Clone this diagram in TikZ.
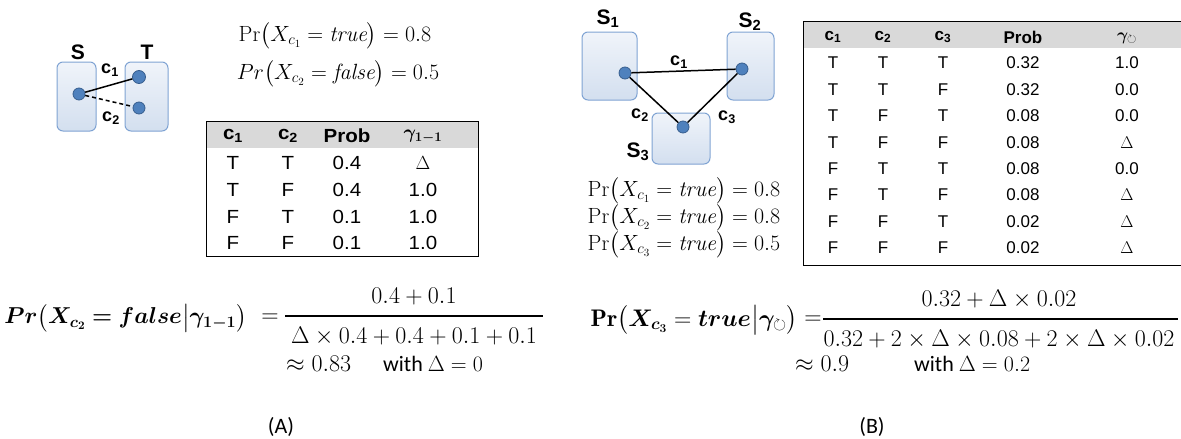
\RequirePackage{fix-cm}
\documentclass[tikz,border=0pt]{standalone}
\usepackage{amsmath,amssymb}
\usepackage{bm}
\usepackage{fontspec}
\newfontfamily\arial{Liberation Sans}
\newfontfamily\arialA[FakeStretch=1.08]{Liberation Sans}
\newfontfamily\calib{Carlito}
\definecolor{grpborder}{HTML}{7FA3D3}
\definecolor{grptop}{HTML}{F0F4FA}
\definecolor{grpbot}{HTML}{D3DFEF}
\definecolor{dotfill}{HTML}{4F81BD}
\definecolor{dotdraw}{HTML}{375E8E}
\definecolor{hdrgray}{HTML}{D9D9D9}
\tikzset{
  grp/.style={draw=grpborder, line width=1pt, rounded corners=6pt, top color=grptop, bottom color=grpbot},
  dot/.style={circle, fill=dotfill, draw=dotdraw, line width=0.8pt, minimum size=12pt, inner sep=0pt},
  bigdot/.style={dot, minimum size=13pt},
  lbl/.style={font=\arial\bfseries\fontsize{21}{21}\selectfont, inner sep=0pt},
  clbl/.style={font=\arial\bfseries\fontsize{18}{18}\selectfont, inner sep=0pt},
  ta/.style={font=\arialA\fontsize{19}{19}\selectfont, inner sep=0pt},
  tah/.style={font=\arialA\bfseries\fontsize{19}{19}\selectfont, inner sep=0pt},
  tb/.style={font=\arial\fontsize{17}{17}\selectfont, inner sep=0pt},
  tbh/.style={font=\arial\bfseries\fontsize{17}{17}\selectfont, inner sep=0pt},
  eq/.style={font=\fontsize{22}{22}\selectfont, inner sep=0pt},
  beq/.style={font=\fontsize{24}{24}\selectfont, inner sep=0pt},
  cal/.style={font=\calib\fontsize{22}{22}\selectfont, inner sep=0pt},
  edge/.style={line width=1.5pt},
  tline/.style={line width=1pt},
}
\begin{document}
\begin{tikzpicture}[x=1pt,y=-1pt]
\useasboundingbox (0,0) rectangle (1181,439);
% ---------------- Panel A graph
\path[grp] (57,62) rectangle (96,131);
\path[grp] (125,62) rectangle (168,131);
\node[lbl] (S) at (78,52) {S};
\node[lbl] (T) at (147,52) {T};
\node[dot] (sa) at (79,94) {};
\node[bigdot] (ta) at (139,77) {};
\node[dot] (tb) at (139,108) {};
\draw[edge] (sa) -- (ta);
\draw[edge, dashed, dash pattern=on 4pt off 3pt] (sa) -- (tb);
\node[clbl] (c1a) at (110,70) {c\textsubscript{1}};
\node[clbl] (c2a) at (111,118) {c\textsubscript{2}};
% ---------------- Panel A probabilities
\node[eq] (pa1) at (335,36) {$\mathrm{Pr}\bigl(X_{c_1} = \mathit{true}\bigr) = 0.8$};
\node[eq] (pa2) at (338,74) {$Pr\bigl(X_{c_2} = \mathit{false}\bigr) = 0.5$};
% ---------------- Table A
\fill[hdrgray] (206,121) rectangle (478,148);
\draw[tline] (206,121) -- (478,121);
\draw[tline] (206,121) -- (206,256) -- (478,256) -- (478,121);
\node[tah] (ha1) at (233,136) {c\textsubscript{1}};
\node[tah] (ha2) at (288,136) {c\textsubscript{2}};
\node[tah] (ha3) at (347,136) {Prob};
\node[ta] (ga) at (423,137) {$\bm{\gamma_{1-1}}$};
\foreach \y/\a/\b/\p/\g in {163/T/T/0.4/$\Delta$, 190/T/F/0.4/1.0, 217/F/T/0.1/1.0, 243/F/F/0.1/1.0}{
  \node[ta] at (233,\y) {\a};
  \node[ta] at (288,\y) {\b};
  \node[ta] at (347,\y) {\p};
  \node[ta] at (423,\y) {\g};
}
% ---------------- Panel A formula
\node[beq, font=\fontsize{23}{23}\selectfont, anchor=east] (lhsA) at (247,318) {$\bm{Pr\bigl(X_{c_2} = false\big| \gamma_{1-1}\bigr)}$};
\node[beq] (eqA) at (270,318) {$=$};
\node[beq] (numA) at (414,297) {$0.4 + 0.1$};
\node[beq] (denA) at (414,336) {$\Delta \times 0.4 + 0.4 + 0.1 + 0.1$};
\draw[line width=1.2pt] (285,316) -- (543,316);
\node[beq, anchor=west] (apA) at (286,364) {$\approx 0.83$};
\node[cal, anchor=west] (wA) at (383,364) {with $\Delta = 0$};
\node[cal] (capA) at (281,427) {(A)};
% ---------------- Panel B graph
\path[grp] (582,32) rectangle (637,100);
\path[grp] (727,32) rectangle (774,100);
\path[grp] (652,113) rectangle (710,164);
\node[lbl] (S1) at (608,19) {S\textsubscript{1}};
\node[lbl] (S2) at (750,22) {S\textsubscript{2}};
\node[lbl] (S3) at (638,152) {S\textsubscript{3}};
\node[dot] (n1) at (625,73) {};
\node[dot] (n2) at (742,69) {};
\node[dot] (n3) at (683,127) {};
\draw[edge] (n1) -- (n2);
\draw[edge] (n1) -- (n3);
\draw[edge] (n3) -- (n2);
\node[clbl] (c1b) at (679,62) {c\textsubscript{1}};
\node[clbl] (c2b) at (640,115) {c\textsubscript{2}};
\node[clbl] (c3b) at (727,117) {c\textsubscript{3}};
% ---------------- Panel B probabilities
\node[eq] (pb1) at (684,191) {$\mathrm{Pr}\bigl(X_{c_1} = \mathit{true}\bigr) = 0.8$};
\node[eq] (pb2) at (684,218) {$\mathrm{Pr}\bigl(X_{c_2} = \mathit{true}\bigr) = 0.8$};
\node[eq] (pb3) at (684,245) {$\mathrm{Pr}\bigl(X_{c_3} = \mathit{true}\bigr) = 0.5$};
% ---------------- Table B
\fill[hdrgray] (803,21) rectangle (1181,48);
\draw[tline] (803,21) -- (1181,21);
\draw[tline] (1181,265) -- (803,265) -- (803,21);
\node[tbh] (hb1) at (833,37) {c\textsubscript{1}};
\node[tbh] (hb2) at (883,37) {c\textsubscript{2}};
\node[tbh] (hb3) at (943,37) {c\textsubscript{3}};
\node[tbh] (hb4) at (1023,37) {Prob};
\node[tb] (gb) at (1127,38) {$\bm{\gamma}_{\circlearrowright}$};
\foreach \i/\a/\b/\c/\p/\g in {0/T/T/T/0.32/1.0, 1/T/T/F/0.32/0.0, 2/T/F/T/0.08/0.0, 3/T/F/F/0.08/$\Delta$, 4/F/T/T/0.08/0.0, 5/F/T/F/0.08/$\Delta$, 6/F/F/T/0.02/$\Delta$, 7/F/F/F/0.02/$\Delta$}{
  \pgfmathsetmacro{\yy}{63+26.4*\i}
  \node[tb] at (833,\yy) {\a};
  \node[tb] at (883,\yy) {\b};
  \node[tb] at (943,\yy) {\c};
  \node[tb] at (1023,\yy) {\p};
  \node[tb] at (1127,\yy) {\g};
}
% ---------------- Panel B formula
\node[beq, anchor=east] (lhsB) at (798,320) {$\mathbf{Pr}\bigl(\bm{X_{c_3}} = \bm{true}\big|\bm{\gamma}_{\circlearrowright}\bigr)$};
\node[beq] (eqB) at (813,320) {$=$};
\node[beq] (numB) at (999,299) {$0.32 + \Delta \times 0.02$};
\node[beq] (denB) at (999,339) {$0.32 + 2 \times \Delta \times 0.08 + 2 \times \Delta \times 0.02$};
\draw[line width=1.2pt] (823,319) -- (1178,319);
\node[beq, anchor=west] (apB) at (795,364) {$\approx 0.9$};
\node[cal, anchor=west] (wB) at (914,364) {with $\Delta = 0.2$};
\node[cal] (capB) at (872,427) {(B)};
\end{tikzpicture}
\end{document}
